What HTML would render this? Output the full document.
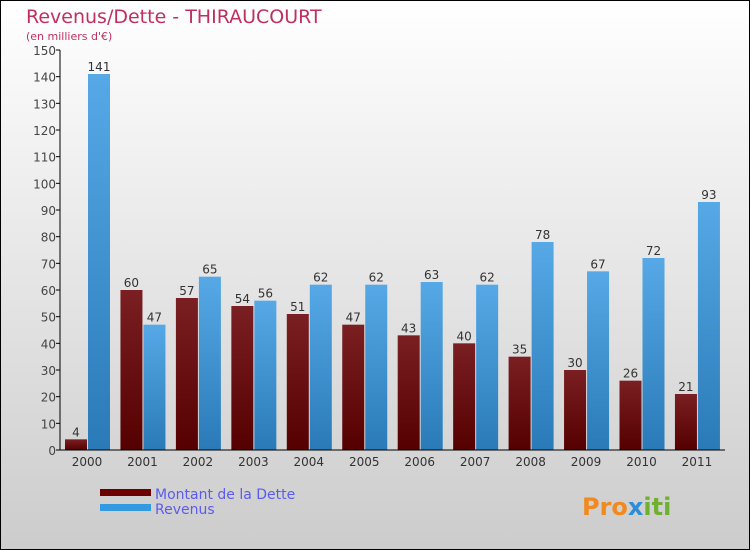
<!DOCTYPE html>
<html><head><meta charset="utf-8"><style>
body{margin:0;width:750px;height:550px;overflow:hidden}
svg{display:block;font-family:"DejaVu Sans","Liberation Sans",sans-serif}
</style></head><body>
<svg id="chart" width="750" height="550">
<defs>
<linearGradient id="bg" x1="0" y1="0" x2="0" y2="1"><stop offset="0" stop-color="#ffffff"/><stop offset="1" stop-color="#cccccc"/></linearGradient>
<linearGradient id="gd" x1="0" y1="0" x2="0" y2="1"><stop offset="0" stop-color="#7a1f22"/><stop offset="1" stop-color="#550000"/></linearGradient>
<linearGradient id="gr" x1="0" y1="0" x2="0" y2="1"><stop offset="0" stop-color="#56a9e6"/><stop offset="1" stop-color="#2a7ab8"/></linearGradient>
</defs>
<rect x="0.5" y="0.5" width="749" height="549" fill="url(#bg)" stroke="#000"/>
<text x="26" y="23" font-size="19" fill="#c0305f">Revenus/Dette - THIRAUCOURT</text>
<text x="26" y="40" font-size="11" fill="#c0305f">(en milliers d'€)</text>
<g id="plot"></g>
<g>
<rect x="100" y="489" width="51" height="7" fill="#6b0000"/>
<text x="155" y="499" font-size="14" fill="#5b5bf0">Montant de la Dette</text>
<rect x="100" y="504" width="51" height="7" fill="#3399e0"/>
<text x="155" y="514" font-size="14" fill="#5b5bf0">Revenus</text>
</g>
<text x="582" y="515" font-size="24" font-weight="bold" fill="#f08a20">Pro<tspan fill="#2a8fd8">x</tspan><tspan fill="#70b030">iti</tspan></text>
</svg>
<script>
const years=["2000","2001","2002","2003","2004","2005","2006","2007","2008","2009","2010","2011"];
const dette=[4,60,57,54,51,47,43,40,35,30,26,21];
const revenus=[141,47,65,56,62,62,63,62,78,67,72,93];
const ticks=[0,10,20,30,40,50,60,70,80,90,100,110,120,130,140,150];
const NS="http://www.w3.org/2000/svg";
const g=document.getElementById('plot');
const y0=450,y1=50,vmax=150,x0=60,step=55.45,first=87,bw=22;
const yS=v=>y0-(v/vmax)*(y0-y1);
const xS=i=>first+i*step;
function mk(t,a,p){const e=document.createElementNS(NS,t);for(const k in a)e.setAttribute(k,a[k]);(p||g).appendChild(e);return e;}
ticks.forEach(t=>{
 const l=mk('line',{x1:x0-4,x2:x0,y1:yS(t),y2:yS(t),stroke:'#000'});
 
 
 const tx=mk('text',{x:x0-4,y:yS(t)+5,'font-size':12,fill:'#444','text-anchor':'end'});
 tx.textContent=t;
 
 
});
years.forEach((yr,i)=>{
 const c=xS(i);
 const a=mk('rect',{x:c-bw,y:yS(dette[i]),width:bw,height:y0-yS(dette[i]),fill:'url(#gd)'});
 
 
 const b=mk('rect',{x:c+1,y:yS(revenus[i]),width:bw,height:y0-yS(revenus[i]),fill:'url(#gr)'});
 
 
 const la=mk('text',{x:c-bw/2,y:yS(dette[i])-3,'font-size':12,fill:'#333','text-anchor':'middle'});
 la.textContent=dette[i];
 
 
 const lb=mk('text',{x:c+1+bw/2,y:yS(revenus[i])-3,'font-size':12,fill:'#333','text-anchor':'middle'});
 lb.textContent=revenus[i];
 
 
 const xl=mk('text',{x:c,y:466,'font-size':12,fill:'#333','text-anchor':'middle'});
 xl.textContent=yr;
 
 
});
const ya=mk('line',{x1:x0,x2:x0,y1:y1,y2:y0,stroke:'#000'});


const xa=mk('line',{x1:x0,x2:725,y1:y0,y2:y0,stroke:'#000'});


</script>
</body></html>
